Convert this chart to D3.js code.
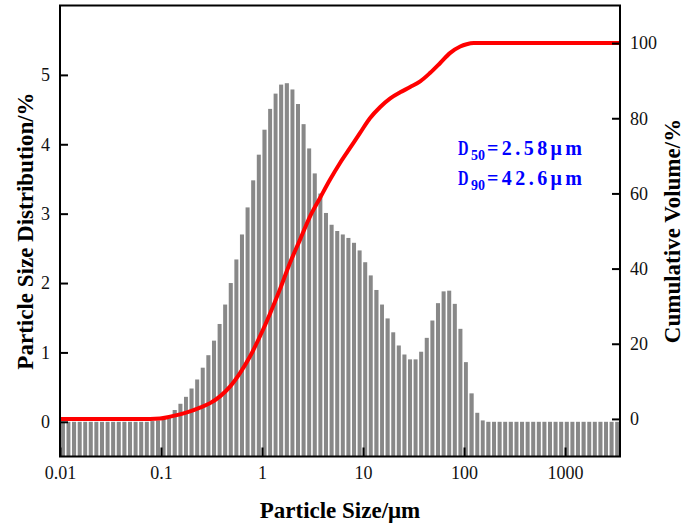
<!DOCTYPE html>
<html>
<head>
  <meta charset="utf-8">
  <title>Particle Size Distribution</title>
  <script src="https://d3js.org/d3.v7.min.js"></script>
  <style>
    body { margin: 0; background: #fff; }
    .tick text { font-family: "Liberation Serif", "Times New Roman", serif; font-size: 18px; fill: #111; }
    .axis-title { font-family: "Liberation Serif", "Times New Roman", serif; font-size: 23px; font-weight: bold; fill: #000; }
    .note { font-family: "Liberation Serif", "Times New Roman", serif; font-weight: bold; fill: #0000ff; }
  </style>
</head>
<body>
  <script>
    // Size class edges (µm), 100 classes from 0.01 to 3500
    var sizeEdges = [
      0.0100, 0.0114, 0.0129, 0.0147, 0.0167, 0.0189, 0.0215, 0.0244, 0.0278, 0.0315,
      0.0358, 0.0407, 0.0463, 0.0526, 0.0597, 0.0679, 0.0771, 0.0876, 0.0995, 0.113,
      0.128, 0.146, 0.166, 0.188, 0.214, 0.243, 0.276, 0.314, 0.357, 0.405,
      0.460, 0.523, 0.594, 0.675, 0.767, 0.872, 0.991, 1.13, 1.28, 1.45,
      1.65, 1.88, 2.13, 2.42, 2.75, 3.12, 3.55, 4.03, 4.58, 5.21,
      5.92, 6.72, 7.64, 8.68, 9.86, 11.2, 12.7, 14.5, 16.4, 18.7,
      21.2, 24.1, 27.4, 31.1, 35.3, 40.1, 45.6, 51.8, 58.9, 66.9,
      76.0, 86.4, 98.1, 111, 127, 144, 163, 186, 211, 240,
      272, 310, 352, 400, 454, 516, 586, 666, 756, 859,
      976, 1110, 1260, 1430, 1630, 1850, 2100, 2390, 2710, 3080, 3500
    ];

    // Volume density per class (%)
    var distValues = [
      0, 0, 0, 0, 0, 0, 0, 0, 0, 0,
      0, 0, 0, 0, 0, 0, 0.01, 0.02, 0.04, 0.08,
      0.17, 0.26, 0.36, 0.48, 0.61, 0.78, 0.96, 1.17, 1.41, 1.69,
      2.00, 2.34, 2.70, 3.09, 3.48, 3.85, 4.21, 4.51, 4.73, 4.86,
      4.88, 4.79, 4.58, 4.29, 3.94, 3.58, 3.29, 3.01, 2.84, 2.75,
      2.70, 2.65, 2.58, 2.47, 2.30, 2.11, 1.90, 1.69, 1.49, 1.29,
      1.10, 0.97, 0.90, 0.90, 1.01, 1.21, 1.46, 1.71, 1.88, 1.89,
      1.70, 1.34, 0.86, 0.41, 0.13, 0.02, 0, 0, 0, 0,
      0, 0, 0, 0, 0, 0, 0, 0, 0, 0,
      0, 0, 0, 0, 0, 0, 0, 0, 0, 0
    ];

    // Cumulative volume curve (size µm, %)
    var cumSizes = [0.01, 0.0313, 0.0778, 0.0977, 0.123, 0.154, 0.194, 0.243, 0.306, 0.384,
      0.482, 0.605, 0.760, 0.955, 1.20, 1.51, 1.89, 2.38, 2.99, 3.75,
      4.72, 5.92, 7.44, 9.35, 11.7, 14.8, 18.6, 23.3, 29.3, 36.8,
      46.3, 58.1, 73.0, 91.7, 106, 125, 150, 500, 3500];
    var cumValues = [0, 0, 0, 0.1, 0.6, 1.2, 2.0, 3.0, 4.2, 6.0,
      8.6, 12.2, 16.6, 22.0, 28.0, 34.6, 41.5, 47.7, 53.9, 58.8,
      63.7, 68.1, 72.1, 76.1, 80.0, 83.0, 85.3, 86.9, 88.3, 89.8,
      92.1, 94.7, 97.4, 99.1, 99.7, 100, 100, 100, 100];

    var xTicks = [0.01, 0.1, 1, 10, 100, 1000];
    var leftTicks = [0, 1, 2, 3, 4, 5];
    var rightTicks = [0, 20, 40, 60, 80, 100];

    var W = 686, H = 526;
    var plotLeft = 60, plotRight = 620, plotTop = 5.5, plotBottom = 456.5;

    var svg = d3.select("body").append("svg")
      .attr("width", W)
      .attr("height", H);

    var x = d3.scaleLog().domain([0.01, 3500]).range([plotLeft, plotRight]);
    var yL = d3.scaleLinear().domain([-0.5, 6]).range([plotBottom, plotTop]);
    var yR = d3.scaleLinear().domain([-10, 110]).range([plotBottom, plotTop]);

    // Bars
    var bins = distValues.map(function(v, i) {
      return {lo: sizeEdges[i], hi: sizeEdges[i + 1], v: v};
    });
    svg.append("g").selectAll("rect")
      .data(bins)
      .enter().append("rect")
      .attr("x", function(d) {
        var w = x(d.hi) - x(d.lo);
        return x(d.lo) + w * 0.14;
      })
      .attr("width", function(d) { return (x(d.hi) - x(d.lo)) * 0.72; })
      .attr("y", function(d) { return yL(d.v); })
      .attr("height", function(d) { return plotBottom - yL(d.v); })
      .attr("fill", "#888888");

    // Cumulative curve
    var line = d3.line()
      .x(function(d, i) { return x(cumSizes[i]); })
      .y(function(d) { return yR(d); })
      .curve(d3.curveMonotoneX);
    svg.append("path")
      .datum(cumValues)
      .attr("d", line)
      .attr("fill", "none")
      .attr("stroke", "#ff0000")
      .attr("stroke-width", 4)
      .attr("stroke-linejoin", "round");

    // Axes (inward ticks)
    svg.append("g")
      .attr("transform", "translate(0," + plotBottom + ")")
      .call(d3.axisBottom(x).tickValues(xTicks).tickFormat(function(d) { return String(d); })
        .tickSizeInner(-9).tickSizeOuter(0).tickPadding(10))
      .call(function(g) { g.select(".domain").remove(); });

    svg.append("g")
      .attr("transform", "translate(" + plotLeft + ",0)")
      .call(d3.axisLeft(yL).tickValues(leftTicks).tickFormat(function(d) { return String(d); })
        .tickSizeInner(-8).tickSizeOuter(0).tickPadding(10))
      .call(function(g) { g.select(".domain").remove(); });

    svg.append("g")
      .attr("transform", "translate(" + plotRight + ",0)")
      .call(d3.axisRight(yR).tickValues(rightTicks).tickFormat(function(d) { return String(d); })
        .tickSizeInner(-8).tickSizeOuter(0).tickPadding(10))
      .call(function(g) { g.select(".domain").remove(); });

    svg.selectAll(".tick line").attr("stroke", "#000").attr("stroke-width", 2);

    // Frame
    svg.append("rect")
      .attr("x", plotLeft).attr("y", plotTop)
      .attr("width", plotRight - plotLeft).attr("height", plotBottom - plotTop)
      .attr("fill", "none").attr("stroke", "#000").attr("stroke-width", 2);

    // Axis titles
    svg.append("text").attr("class", "axis-title")
      .attr("x", (plotLeft + plotRight) / 2).attr("y", 518)
      .attr("text-anchor", "middle")
      .text("Particle Size/μm");

    svg.append("text").attr("class", "axis-title")
      .attr("transform", "translate(33," + (plotTop + plotBottom) / 2 + ") rotate(-90)")
      .attr("text-anchor", "middle")
      .text("Particle Size Distribution/%");

    svg.append("text").attr("class", "axis-title")
      .attr("transform", "translate(680," + (plotTop + plotBottom) / 2 + ") rotate(-90)")
      .attr("text-anchor", "middle")
      .text("Cumulative Volume/%");

    // D50 / D90 notes
    var notes = [
      {sub: "50", rest: "=2.58μm", y: 155},
      {sub: "90", rest: "=42.6μm", y: 185}
    ];
    notes.forEach(function(n) {
      svg.append("text").attr("class", "note")
        .attr("x", 458).attr("y", n.y)
        .attr("font-size", 20)
        .attr("textLength", 10.5).attr("lengthAdjust", "spacingAndGlyphs")
        .text("D");
      svg.append("text").attr("class", "note")
        .attr("x", 471).attr("y", n.y + 5)
        .attr("font-size", 14)
        .text(n.sub);
      svg.append("text").attr("class", "note")
        .attr("x", 487).attr("y", n.y)
        .attr("font-size", 20)
        .attr("textLength", 95).attr("lengthAdjust", "spacing")
        .text(n.rest);
    });
  </script>
</body>
</html>
